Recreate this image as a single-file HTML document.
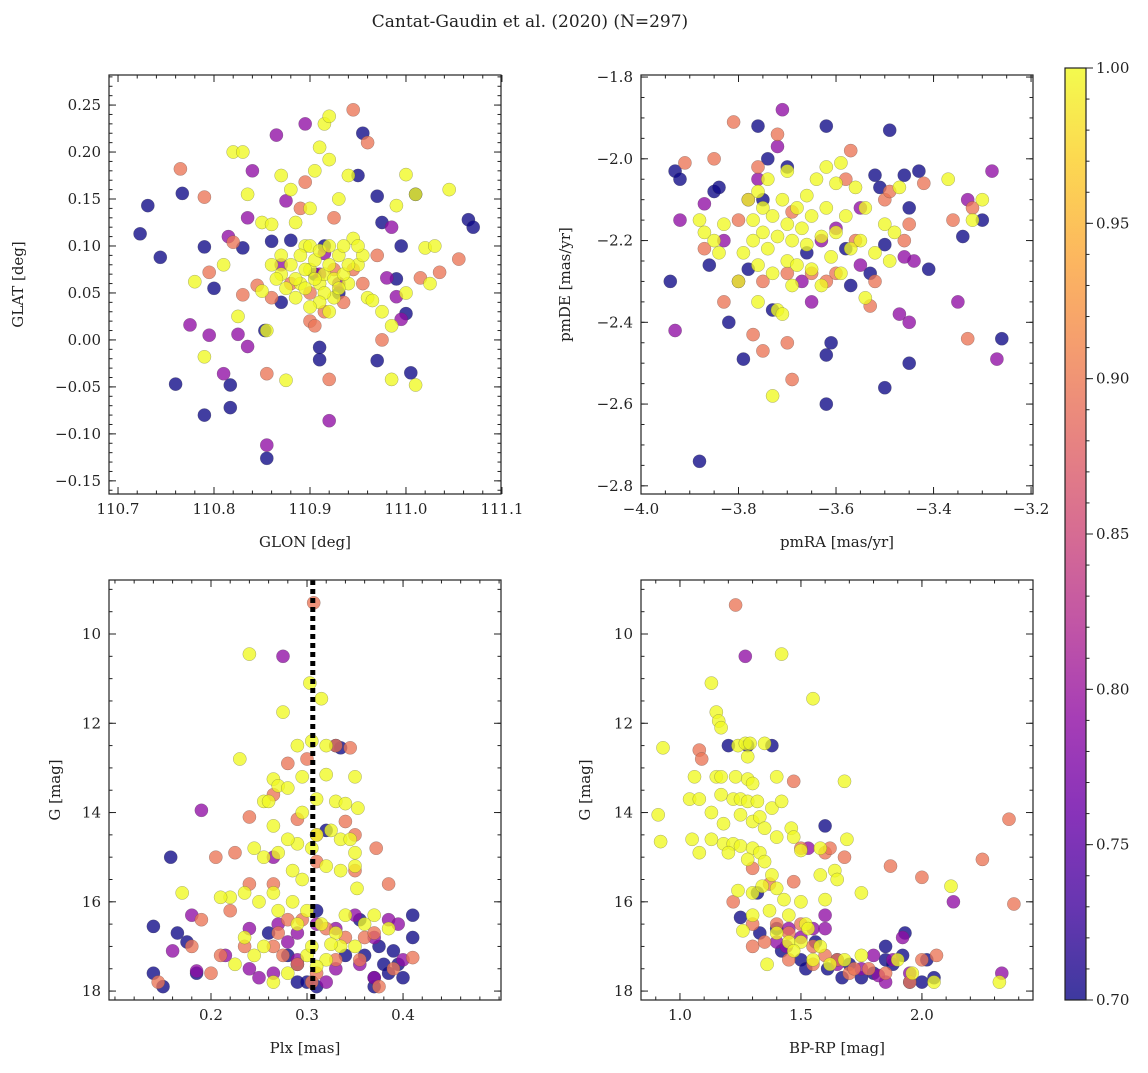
<!DOCTYPE html>
<html><head><meta charset="utf-8">
<style>
html,body{margin:0;padding:0;background:#fff;}
svg text{font-family:"DejaVu Serif","Liberation Serif",serif;fill:#222;}
</style></head>
<body>
<svg id="fig" width="1148" height="1068" viewBox="0 0 1148 1068" xmlns="http://www.w3.org/2000/svg">
<text x="530" y="27" text-anchor="middle" font-size="17">Cantat-Gaudin et al. (2020) (N=297)</text>
<defs>
<linearGradient id="plasma" x1="0" y1="1" x2="0" y2="0">
<stop offset="0" stop-color="#0d0887"/><stop offset="0.1" stop-color="#41049d"/><stop offset="0.2" stop-color="#6a00a8"/><stop offset="0.3" stop-color="#8f0da4"/><stop offset="0.4" stop-color="#b12a90"/><stop offset="0.5" stop-color="#cc4778"/><stop offset="0.6" stop-color="#e16462"/><stop offset="0.7" stop-color="#f2844b"/><stop offset="0.8" stop-color="#fca636"/><stop offset="0.9" stop-color="#fcce25"/><stop offset="1" stop-color="#f0f921"/>
</linearGradient>
</defs>
</svg>
<script>
// ---- data (prob classes: 0.70, 0.79, 0.895, 1.00) ----
const probLevels = [0.70, 0.79, 0.895, 1.00];
// Panel 1: GLON, GLAT
const p1Blue = [[110.723,0.113],[110.731,0.143],[110.744,0.088],[110.760,-0.047],[110.767,0.156],[110.79,0.099],[110.79,-0.080],[110.80,0.055],[110.817,-0.048],[110.817,-0.072],[110.853,0.010],[110.855,-0.126],[110.86,0.105],[110.88,0.106],[110.905,0.070],[110.91,-0.008],[110.91,-0.021],[110.915,0.100],[110.95,0.175],[110.955,0.220],[110.97,0.153],[110.975,0.125],[110.97,-0.022],[110.995,0.100],[111.0,0.028],[111.005,-0.035],[111.01,0.155],[111.065,0.128],[111.07,0.120],[110.83,0.098],[110.87,0.040],[110.93,0.050],[110.99,0.065]];
const p1Purple = [[110.775,0.016],[110.81,-0.036],[110.815,0.11],[110.825,0.006],[110.835,-0.007],[110.835,0.13],[110.84,0.18],[110.855,-0.112],[110.865,0.218],[110.875,0.148],[110.895,0.23],[110.91,0.07],[110.915,0.092],[110.92,-0.086],[110.93,0.06],[110.98,0.066],[110.99,0.046],[110.995,0.022],[110.985,0.120],[110.795,0.005],[110.87,0.08]];
const p1Salmon = [[110.765,0.182],[110.79,0.152],[110.795,0.072],[110.82,0.104],[110.83,0.048],[110.845,0.058],[110.855,-0.036],[110.895,0.168],[110.92,-0.042],[110.925,0.130],[110.945,0.245],[110.96,0.21],[110.97,0.09],[110.975,0.0],[111.015,0.066],[111.035,0.072],[111.055,0.086],[110.88,0.06],[110.9,0.02],[110.915,0.03],[110.9,0.05],[110.935,0.04],[110.955,0.06],[110.86,0.045],[110.89,0.14],[110.925,0.075],[110.945,0.075],[110.905,0.015]];
const p1Yellow = [[110.78,0.062],[110.79,-0.018],[110.81,0.08],[110.82,0.2],[110.83,0.2],[110.825,0.025],[110.835,0.155],[110.85,0.125],[110.85,0.052],[110.855,0.01],[110.86,0.123],[110.86,0.08],[110.87,0.175],[110.875,-0.043],[110.88,0.16],[110.885,0.125],[110.89,0.06],[110.895,0.1],[110.9,0.14],[110.905,0.18],[110.91,0.205],[110.915,0.23],[110.92,0.238],[110.92,0.192],[110.93,0.15],[110.94,0.175],[110.945,0.108],[110.95,0.08],[110.96,0.045],[110.965,0.042],[110.985,-0.042],[110.99,0.143],[111.0,0.176],[111.01,0.155],[111.02,0.098],[111.025,0.06],[111.03,0.1],[111.045,0.16],[111.0,0.05],[110.975,0.03],[111.01,-0.048],[110.985,0.015],[110.955,0.09],[110.94,0.06],[110.925,0.045],[110.87,0.07],[110.88,0.08],[110.885,0.065],[110.89,0.09],[110.895,0.055],[110.9,0.075],[110.905,0.085],[110.91,0.06],[110.915,0.07],[110.92,0.08],[110.925,0.065],[110.93,0.09],[110.935,0.07],[110.9,0.1],[110.91,0.095],[110.92,0.1],[110.895,0.075],[110.905,0.065],[110.915,0.05],[110.885,0.045],[110.875,0.055],[110.865,0.065],[110.94,0.08],[110.93,0.055],[110.91,0.04],[110.9,0.035],[110.92,0.03],[110.87,0.09],[110.95,0.1],[110.935,0.1]];
// Panel 2: pmRA, pmDE
const p2Blue = [[-3.93,-2.03],[-3.92,-2.05],[-3.94,-2.30],[-3.88,-2.74],[-3.85,-2.08],[-3.84,-2.07],[-3.82,-2.4],[-3.79,-2.49],[-3.78,-2.27],[-3.76,-1.92],[-3.74,-2.0],[-3.73,-2.37],[-3.7,-2.02],[-3.62,-1.92],[-3.62,-2.6],[-3.62,-2.48],[-3.61,-2.45],[-3.57,-2.31],[-3.52,-2.04],[-3.5,-2.56],[-3.49,-1.93],[-3.46,-2.04],[-3.45,-2.5],[-3.43,-2.03],[-3.41,-2.27],[-3.34,-2.19],[-3.3,-2.15],[-3.26,-2.44],[-3.51,-2.07],[-3.5,-2.21],[-3.45,-2.12],[-3.53,-2.28],[-3.86,-2.26],[-3.75,-2.1],[-3.66,-2.23],[-3.58,-2.22]];
const p2Purple = [[-3.92,-2.15],[-3.93,-2.42],[-3.87,-2.11],[-3.83,-2.2],[-3.8,-2.3],[-3.71,-1.88],[-3.72,-1.97],[-3.76,-2.05],[-3.65,-2.35],[-3.55,-2.26],[-3.47,-2.38],[-3.45,-2.4],[-3.44,-2.25],[-3.35,-2.35],[-3.33,-2.1],[-3.28,-2.03],[-3.27,-2.49],[-3.6,-2.17],[-3.55,-2.12],[-3.78,-2.1],[-3.67,-2.3],[-3.46,-2.24],[-3.63,-2.2]];
const p2Salmon = [[-3.91,-2.01],[-3.85,-2.0],[-3.81,-1.91],[-3.76,-2.02],[-3.77,-2.43],[-3.75,-2.47],[-3.72,-1.94],[-3.7,-2.45],[-3.69,-2.54],[-3.7,-2.28],[-3.62,-2.3],[-3.58,-2.05],[-3.52,-2.3],[-3.53,-2.36],[-3.5,-2.1],[-3.45,-2.16],[-3.42,-2.06],[-3.36,-2.15],[-3.33,-2.44],[-3.32,-2.12],[-3.65,-2.28],[-3.6,-2.28],[-3.83,-2.35],[-3.87,-2.22],[-3.69,-2.13],[-3.56,-2.2],[-3.49,-2.08],[-3.46,-2.2],[-3.8,-2.15],[-3.57,-1.98],[-3.75,-2.3]];
const p2Yellow = [[-3.88,-2.15],[-3.87,-2.18],[-3.85,-2.2],[-3.84,-2.23],[-3.83,-2.16],[-3.8,-2.3],[-3.79,-2.23],[-3.78,-2.1],[-3.77,-2.15],[-3.77,-2.2],[-3.76,-2.26],[-3.76,-2.35],[-3.75,-2.12],[-3.75,-2.18],[-3.74,-2.05],[-3.74,-2.22],[-3.73,-2.28],[-3.73,-2.14],[-3.72,-2.19],[-3.72,-2.37],[-3.71,-2.1],[-3.7,-2.25],[-3.7,-2.16],[-3.69,-2.2],[-3.69,-2.31],[-3.68,-2.12],[-3.68,-2.26],[-3.67,-2.17],[-3.66,-2.09],[-3.66,-2.21],[-3.65,-2.14],[-3.65,-2.27],[-3.64,-2.05],[-3.63,-2.19],[-3.63,-2.31],[-3.62,-2.12],[-3.61,-2.24],[-3.6,-2.06],[-3.6,-2.18],[-3.59,-2.28],[-3.58,-2.14],[-3.57,-2.22],[-3.56,-2.07],[-3.55,-2.2],[-3.54,-2.12],[-3.54,-2.34],[-3.52,-2.23],[-3.5,-2.16],[-3.49,-2.25],[-3.48,-2.18],[-3.47,-2.07],[-3.37,-2.05],[-3.32,-2.15],[-3.3,-2.1],[-3.73,-2.58],[-3.71,-2.38],[-3.62,-2.02],[-3.7,-2.03],[-3.76,-2.08],[-3.59,-2.01]];
// Panel 3: Plx, G
const p3Blue = [[0.158,15.0],[0.14,16.55],[0.14,17.6],[0.15,17.9],[0.165,16.7],[0.175,16.9],[0.185,17.6],[0.26,16.7],[0.28,17.2],[0.29,17.4],[0.29,17.8],[0.30,17.8],[0.31,16.2],[0.33,12.5],[0.335,12.55],[0.34,17.2],[0.355,16.4],[0.36,17.2],[0.37,17.7],[0.38,17.4],[0.39,17.1],[0.395,17.4],[0.4,17.7],[0.41,16.3],[0.41,16.8],[0.37,17.9],[0.32,14.4],[0.31,17.9],[0.375,17.0],[0.385,17.6]];
const p3Purple = [[0.275,10.5],[0.19,13.95],[0.265,15.0],[0.18,16.3],[0.24,16.6],[0.27,16.5],[0.29,16.7],[0.31,16.5],[0.33,16.6],[0.35,16.3],[0.37,16.8],[0.385,16.4],[0.395,16.5],[0.16,17.1],[0.215,17.2],[0.24,17.5],[0.265,17.6],[0.29,17.3],[0.32,17.8],[0.355,17.4],[0.37,17.7],[0.4,17.3],[0.185,17.55],[0.25,17.7],[0.28,16.9],[0.33,17.5]];
const p3Salmon = [[0.307,9.3],[0.33,12.5],[0.345,12.55],[0.28,12.9],[0.3,12.8],[0.265,13.6],[0.24,14.1],[0.29,14.15],[0.31,14.5],[0.34,14.2],[0.35,14.5],[0.205,15.0],[0.225,14.9],[0.372,14.8],[0.385,15.6],[0.35,15.3],[0.31,15.1],[0.24,15.6],[0.265,15.6],[0.19,16.4],[0.22,16.2],[0.27,16.7],[0.28,16.4],[0.295,16.4],[0.32,16.6],[0.34,16.8],[0.36,16.8],[0.37,16.7],[0.18,17.0],[0.21,17.2],[0.235,17.0],[0.265,17.0],[0.275,17.2],[0.29,17.4],[0.31,17.6],[0.33,17.3],[0.355,17.3],[0.39,17.5],[0.41,17.25],[0.145,17.8],[0.2,17.6],[0.375,17.9],[0.305,17.8]];
const p3Yellow = [[0.24,10.45],[0.303,11.1],[0.315,11.45],[0.275,11.75],[0.23,12.8],[0.32,12.5],[0.305,12.4],[0.29,12.5],[0.295,13.2],[0.32,13.15],[0.265,13.25],[0.27,13.4],[0.28,13.45],[0.255,13.75],[0.26,13.75],[0.31,13.7],[0.33,13.75],[0.35,13.2],[0.34,13.8],[0.353,13.9],[0.295,14.0],[0.265,14.3],[0.31,14.5],[0.29,14.7],[0.305,14.8],[0.28,14.6],[0.325,14.4],[0.335,14.6],[0.345,14.6],[0.35,14.9],[0.245,14.8],[0.255,15.0],[0.27,14.9],[0.285,15.3],[0.295,15.5],[0.32,15.2],[0.335,15.3],[0.35,15.2],[0.352,15.7],[0.17,15.8],[0.22,15.9],[0.235,15.8],[0.265,15.8],[0.285,16.0],[0.3,16.2],[0.315,16.5],[0.33,16.7],[0.34,16.3],[0.36,16.5],[0.37,16.3],[0.385,16.6],[0.235,16.8],[0.255,17.0],[0.225,17.4],[0.3,17.2],[0.32,17.3],[0.28,17.6],[0.305,17.0],[0.265,17.8],[0.31,17.45],[0.335,17.0],[0.27,16.2],[0.29,16.5],[0.245,17.2],[0.325,16.95],[0.35,17.0],[0.21,15.9],[0.25,16.0]];
// Panel 4: BP-RP, G
const p4Blue = [[1.2,12.5],[1.28,12.5],[1.38,12.5],[1.6,14.3],[1.32,15.8],[1.25,16.35],[1.33,16.7],[1.4,16.6],[1.5,17.3],[1.56,16.9],[1.61,17.5],[1.65,17.3],[1.7,17.4],[1.75,17.7],[1.8,17.6],[1.85,17.3],[1.88,17.4],[1.92,17.2],[1.95,17.8],[2.0,17.8],[2.05,17.7],[1.93,16.7],[1.85,17.0],[2.02,17.3],[1.67,17.7],[1.42,17.1],[1.52,17.5]];
const p4Purple = [[1.27,10.5],[1.53,14.8],[1.6,16.3],[2.13,16.0],[1.45,16.6],[1.5,16.8],[1.55,16.6],[1.6,16.6],[1.65,17.4],[1.8,17.2],[1.88,17.3],[1.92,16.8],[1.85,17.8],[1.95,17.6],[2.33,17.6],[1.4,16.9],[1.75,17.5],[1.82,17.65],[1.44,17.0]];
const p4Salmon = [[1.23,9.35],[1.08,12.6],[1.09,12.8],[1.47,13.3],[1.3,15.25],[1.37,15.6],[1.47,15.55],[1.5,14.8],[1.6,14.9],[1.62,14.8],[1.87,15.2],[1.68,15.0],[2.0,15.45],[2.25,15.05],[2.36,14.15],[2.38,16.05],[1.22,16.0],[1.3,16.5],[1.4,16.5],[1.45,16.7],[1.5,16.5],[1.3,17.0],[1.35,16.9],[1.45,17.3],[1.55,17.0],[1.6,17.2],[1.7,17.6],[1.72,17.5],[1.78,17.5],[1.85,17.6],[1.95,17.8],[2.0,17.3],[2.06,17.2],[1.55,17.4],[1.65,17.3]];
const p4Yellow = [[1.42,10.45],[1.13,11.1],[1.55,11.45],[1.15,11.75],[1.16,11.95],[1.17,12.1],[0.93,12.55],[1.24,12.5],[1.27,12.45],[1.29,12.45],[1.35,12.45],[1.28,12.75],[1.4,13.2],[1.06,13.2],[1.15,13.2],[1.17,13.2],[1.23,13.2],[1.28,13.25],[1.3,13.35],[1.68,13.3],[1.04,13.7],[1.08,13.7],[1.17,13.6],[1.22,13.7],[1.25,13.7],[1.28,13.75],[1.32,13.75],[1.38,13.9],[1.42,13.75],[0.91,14.05],[1.13,14.0],[1.18,14.25],[1.25,14.05],[1.3,14.2],[1.33,14.1],[1.35,14.35],[1.46,14.35],[1.47,14.55],[0.92,14.65],[1.05,14.6],[1.13,14.6],[1.18,14.7],[1.22,14.7],[1.25,14.75],[1.3,14.8],[1.33,14.9],[1.4,14.55],[1.5,14.85],[1.58,14.8],[1.69,14.6],[1.08,14.9],[1.2,14.9],[1.28,15.05],[1.35,15.1],[1.38,15.4],[1.58,15.4],[1.64,15.3],[1.65,15.5],[2.12,15.65],[1.24,15.75],[1.3,15.8],[1.34,15.65],[1.4,15.7],[1.43,15.95],[1.5,16.0],[1.6,15.95],[1.75,15.8],[1.3,16.3],[1.37,16.2],[1.45,16.3],[1.52,16.5],[1.26,16.65],[1.4,16.7],[1.45,16.9],[1.5,16.9],[1.53,16.6],[1.58,17.0],[1.55,17.3],[1.62,17.4],[1.68,17.3],[1.75,17.2],[1.9,17.3],[1.96,17.6],[2.05,17.8],[2.32,17.8],[1.36,17.4],[1.47,17.1]];
const plxLine = 0.306;
const p1XTicks = [110.7,110.8,110.9,111.0,111.1];
const p1YTicks = [-0.15,-0.10,-0.05,0.00,0.05,0.10,0.15,0.20,0.25];
const p2XTicks = [-4.0,-3.8,-3.6,-3.4,-3.2];
const p2YTicks = [-2.8,-2.6,-2.4,-2.2,-2.0,-1.8];
const p3XTicks = [0.2,0.3,0.4];
const gTicks = [10,12,14,16,18];
const p4XTicks = [1.0,1.5,2.0];
const cbTicks = [0.70,0.75,0.80,0.85,0.90,0.95,1.00];

const NS = 'http://www.w3.org/2000/svg';
const svg = document.getElementById('fig');
function mk(tag, attrs, parent){const e=document.createElementNS(NS,tag);for(const k in attrs)e.setAttribute(k,attrs[k]);(parent||svg).appendChild(e);return e;}
const stops=[[0,'#0d0887'],[0.1,'#41049d'],[0.2,'#6a00a8'],[0.3,'#8f0da4'],[0.4,'#b12a90'],[0.5,'#cc4778'],[0.6,'#e16462'],[0.7,'#f2844b'],[0.8,'#fca636'],[0.9,'#fcce25'],[1,'#f0f921']];
function hex(h){return [1,3,5].map(i=>parseInt(h.substr(i,2),16));}
function plasma(t){t=Math.max(0,Math.min(1,t));for(let i=1;i<stops.length;i++){if(t<=stops[i][0]){const a=stops[i-1],b=stops[i];const f=(t-a[0])/(b[0]-a[0]);const ca=hex(a[1]),cb=hex(b[1]);return 'rgb('+ca.map((v,j)=>Math.round(v+(cb[j]-v)*f)).join(',')+')';}}return stops[stops.length-1][1];}
function fmt(v,d){const s=Math.abs(v).toFixed(d);return (v<0&&parseFloat(s)!==0?'\u2212':'')+s;}

function panel(o){
  const sx=v=>o.x0+(v-o.xmin)/(o.xmax-o.xmin)*(o.x1-o.x0);
  const sy=o.invert?(v=>o.y0+(v-o.ymin)/(o.ymax-o.ymin)*(o.y1-o.y0)):(v=>o.y1-(v-o.ymin)/(o.ymax-o.ymin)*(o.y1-o.y0));
  const g=mk('g',{});
  
  
  const clipId='clip-'+o.name;
  const cp=mk('clipPath',{id:clipId},g);mk('rect',{x:o.x0,y:o.y0,width:o.x1-o.x0,height:o.y1-o.y0},cp);
  const pts=mk('g',{'clip-path':'url(#'+clipId+')'},g);
  o.groups.forEach((grp,gi)=>{grp.forEach(d=>{
    const c=mk('circle',{cx:sx(d[0]).toFixed(1),cy:sy(d[1]).toFixed(1),r:6.6,fill:plasma((probLevels[gi]-0.7)/0.3),'fill-opacity':0.78,stroke:'#444','stroke-opacity':0.45,'stroke-width':0.5},pts);
    
    
  });});
  if(o.vline!==undefined){const l=mk('line',{x1:sx(o.vline),x2:sx(o.vline),y1:o.y0,y2:o.y1,stroke:'#000','stroke-width':5,'stroke-dasharray':'5,4'},g);
    
    }
  const fr=mk('rect',{x:o.x0,y:o.y0,width:o.x1-o.x0,height:o.y1-o.y0,fill:'none',stroke:'#222','stroke-width':1.2},g);
  
  
  const tk=mk('g',{stroke:'#222','stroke-width':1},g);
  for(let v=Math.ceil(o.xmin/o.xminor-1e-9)*o.xminor; v<=o.xmax; v+=o.xminor){const X=sx(v);mk('line',{x1:X,x2:X,y1:o.y1,y2:o.y1-3.5},tk);mk('line',{x1:X,x2:X,y1:o.y0,y2:o.y0+3.5},tk);}
  for(let v=Math.ceil(o.ymin/o.yminor-1e-9)*o.yminor; v<=o.ymax; v+=o.yminor){const Y=sy(v);mk('line',{x1:o.x0,x2:o.x0+3.5,y1:Y,y2:Y},tk);mk('line',{x1:o.x1,x2:o.x1-3.5,y1:Y,y2:Y},tk);}
  o.xticks.forEach(v=>{const X=sx(v);if(X<o.x0-1||X>o.x1+1)return;mk('line',{x1:X,x2:X,y1:o.y1,y2:o.y1-7},tk);mk('line',{x1:X,x2:X,y1:o.y0,y2:o.y0+7},tk);
    const t=mk('text',{x:X,y:o.y1+20,'text-anchor':'middle','font-size':15},g);t.textContent=fmt(v,o.xd);
    
    });
  o.yticks.forEach(v=>{const Y=sy(v);if(Y<o.y0-1||Y>o.y1+1)return;mk('line',{x1:o.x0,x2:o.x0+7,y1:Y,y2:Y},tk);mk('line',{x1:o.x1,x2:o.x1-7,y1:Y,y2:Y},tk);
    const t=mk('text',{x:o.x0-8,y:Y+5,'text-anchor':'end','font-size':15},g);t.textContent=fmt(v,o.yd);
    
    });
  const xl=mk('text',{x:(o.x0+o.x1)/2,y:o.y1+53,'text-anchor':'middle','font-size':15},g);xl.textContent=o.xlabel;
  
  
  const yx=o.ylx, yy=(o.y0+o.y1)/2;
  const yl=mk('text',{x:yx,y:yy,'text-anchor':'middle','font-size':15,transform:'rotate(-90 '+yx+' '+yy+')'},g);yl.textContent=o.ylabel;
  
  
}

panel({name:'glon-glat-panel',x0:109,x1:501,y0:75,y1:494,xmin:110.6906,xmax:111.099,ymin:-0.164,ymax:0.282,xminor:0.02,yminor:0.01,xticks:p1XTicks,yticks:p1YTicks,xd:1,yd:2,xlabel:'GLON [deg]',ylabel:'GLAT [deg]',ylx:23,groups:[p1Blue,p1Purple,p1Salmon,p1Yellow]});
panel({name:'pm-panel',x0:641,x1:1033,y0:75,y1:494,xmin:-4.0,xmax:-3.196,ymin:-2.82,ymax:-1.795,xminor:0.05,yminor:0.05,xticks:p2XTicks,yticks:p2YTicks,xd:1,yd:1,xlabel:'pmRA [mas/yr]',ylabel:'pmDE [mas/yr]',ylx:570,groups:[p2Blue,p2Purple,p2Salmon,p2Yellow]});
panel({name:'plx-g-panel',x0:109,x1:501,y0:580,y1:1000,xmin:0.0938,xmax:0.502,ymin:8.79,ymax:18.2,invert:true,xminor:0.02,yminor:0.5,xticks:p3XTicks,yticks:gTicks,xd:1,yd:0,xlabel:'Plx [mas]',ylabel:'G [mag]',ylx:60,vline:plxLine,groups:[p3Blue,p3Purple,p3Salmon,p3Yellow]});
panel({name:'cmd-panel',x0:641,x1:1033,y0:580,y1:1000,xmin:0.839,xmax:2.459,ymin:8.79,ymax:18.2,invert:true,xminor:0.1,yminor:0.5,xticks:p4XTicks,yticks:gTicks,xd:1,yd:0,xlabel:'BP-RP [mag]',ylabel:'G [mag]',ylx:590,groups:[p4Blue,p4Purple,p4Salmon,p4Yellow]});

const cb=mk('g',{});


const cbY0=68,cbY1=1000,cbX0=1065,cbX1=1086;
mk('rect',{x:cbX0,y:cbY0,width:cbX1-cbX0,height:cbY1-cbY0,fill:'url(#plasma)','fill-opacity':0.8},cb);
mk('rect',{x:cbX0,y:cbY0,width:cbX1-cbX0,height:cbY1-cbY0,fill:'none',stroke:'#222','stroke-width':1.2},cb);
const cy=v=>cbY1-(v-0.7)/0.3*(cbY1-cbY0);
for(let v=0.70;v<=1.0001;v+=0.01){mk('line',{x1:cbX1,x2:cbX1+3.5,y1:cy(v),y2:cy(v),stroke:'#222','stroke-width':1},cb);}
cbTicks.forEach(v=>{mk('line',{x1:cbX1,x2:cbX1+7,y1:cy(v),y2:cy(v),stroke:'#222','stroke-width':1},cb);
  const t=mk('text',{x:1096,y:cy(v)+5,'font-size':15},cb);t.textContent=v.toFixed(2);
  
  });
</script>
</body></html>
